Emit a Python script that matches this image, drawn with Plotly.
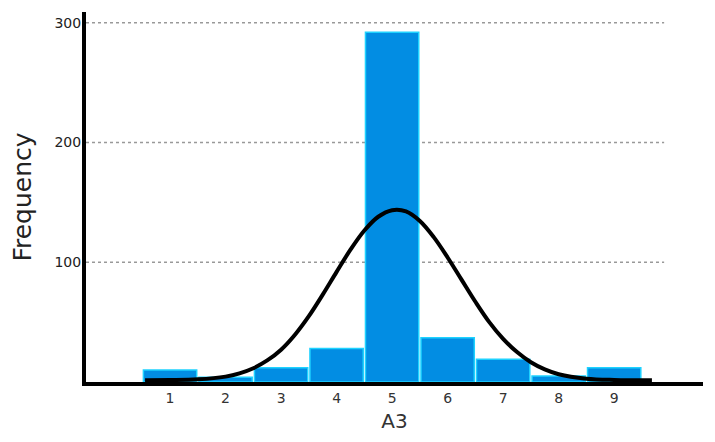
import plotly.graph_objects as go

# Histogram data
categories = [1, 2, 3, 4, 5, 6, 7, 8, 9]
frequencies = [10, 4, 12, 28, 292, 37, 19, 5, 12]

# Fitted normal curve
curve_x = [0.55, 1.0, 1.5, 2.0, 2.25, 2.5, 2.75, 3.0, 3.25, 3.5, 3.75, 4.0, 4.25,
           4.5, 4.75, 5.0, 5.25, 5.5, 5.75, 6.0, 6.25, 6.5, 6.75, 7.0, 7.25,
           7.5, 7.75, 8.0, 8.5, 9.0, 9.68]
curve_y = [1.5, 1.6, 2.2, 4.5, 7.2, 11.5, 18, 27, 39.5, 55, 73, 92, 110.5,
           126.5, 138, 143.5, 142.5, 134.5, 121, 104, 85.5, 67, 50, 36, 25,
           16.5, 10.5, 6.5, 2.8, 1.7, 1.4]

y_ticks = [100, 200, 300]
x_tick_labels = [str(c) for c in categories]

fig = go.Figure()
fig.add_trace(go.Bar(
    x=categories, y=frequencies,
    marker=dict(color="#028de3", line=dict(color="#1ed2ff", width=1.5)),
    showlegend=False,
))
fig.add_trace(go.Scatter(
    x=curve_x, y=curve_y, mode="lines",
    line=dict(color="black", width=4, shape="spline", smoothing=1.0),
    showlegend=False,
))

for yv in y_ticks:
    fig.add_shape(type="line", xref="paper", yref="y", x0=0, x1=0.937, y0=yv, y1=yv,
                  line=dict(color="#999999", width=1.5, dash="dot"), layer="below")

fig.update_layout(
    width=715, height=442,
    margin=dict(l=86, r=12, t=12, b=58),
    plot_bgcolor="white", paper_bgcolor="white",
    bargap=0.04,
    font=dict(family="DejaVu Sans", color="#222222"),
    xaxis=dict(
        range=[-0.514, 10.6], tickmode="array", tickvals=categories, ticktext=x_tick_labels,
        showgrid=False, zeroline=False, showline=True, linecolor="black", linewidth=4,
        ticks="", tickfont=dict(size=14, color="#333333"),
        title=dict(text="A3", font=dict(size=20, color="#333333"), standoff=10),
    ),
    yaxis=dict(
        range=[0, 309], tickmode="array", tickvals=y_ticks,
        showgrid=False, zeroline=False, showline=True, linecolor="black", linewidth=4,
        ticks="", tickfont=dict(size=14, color="#222222"), ticklabelstandoff=-2,
        title=dict(text="Frequency", font=dict(size=25, color="#222222"), standoff=17),
    ),
)

fig.write_html("out.html")
